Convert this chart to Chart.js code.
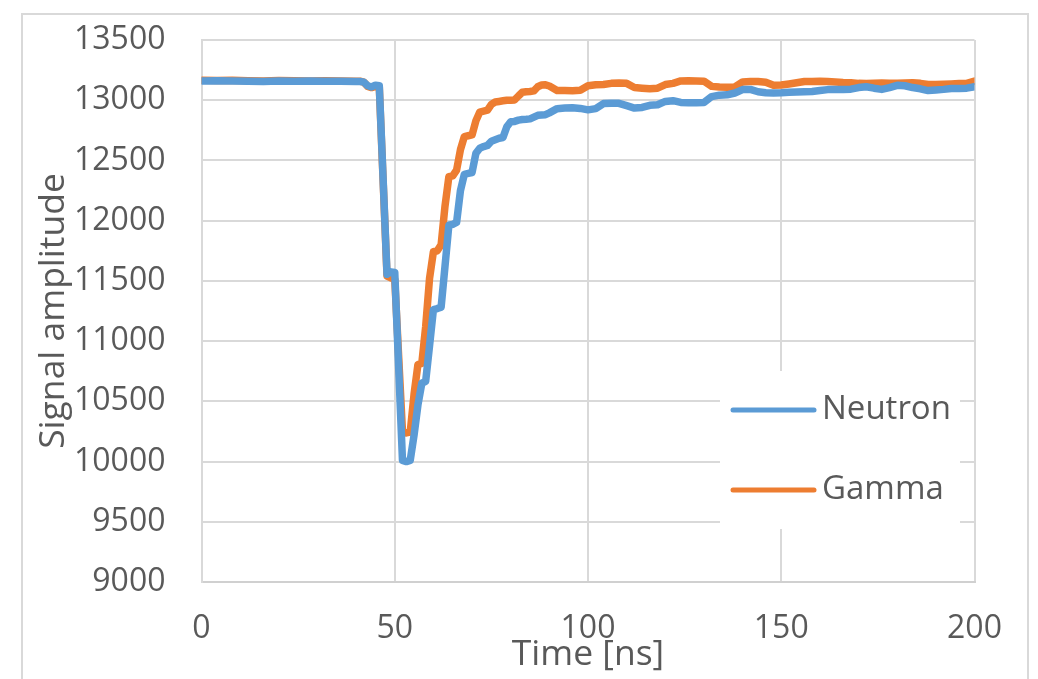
<!DOCTYPE html>
<html>
<head>
<meta charset="utf-8">
<script src="https://cdn.jsdelivr.net/npm/chart.js@4.4.1/dist/chart.umd.min.js"></script>
<style>
html,body{margin:0;padding:0;background:#fff;}
#wrap{width:1038px;height:679px;position:relative;}
</style>
</head>
<body>
<div id="wrap"><canvas id="c"></canvas></div>
<script>
const timeNs = [0,4,8,12,16,20,24,28,32,36,40,
41,42,43,44,45,46,47,48,49,50,51,52,53,54,55,56,57,58,59,60,
61,62,63,64,65,66,67,68,69,70,71,72,73,74,75,76,77,78,79,80,
81,82,83,84,85,86,87,88,89,90,
92,94,96,98,100,102,104,106,108,110,112,114,116,118,120,122,124,126,128,130,
132,134,136,138,140,142,144,146,148,150,152,154,156,158,160,162,164,166,168,170,
172,174,176,178,180,182,184,186,188,190,192,194,196,198,200];

const neutron = [13160,13162,13160,13158,13155,13160,13158,13160,13158,13157,13155,
13155,13150,13120,13110,13125,13120,12340,11555,11575,11570,10790,10010,10000,10010,10220,10470,10650,10665,10960,11262,
11270,11282,11620,11962,11970,11985,12250,12385,12392,12400,12560,12602,12615,12625,12660,12672,12684,12690,12780,12822,
12824,12835,12840,12842,12845,12860,12875,12878,12880,12895,
12930,12935,12938,12932,12920,12930,12972,12975,12974,12955,12935,12940,12958,12962,12990,12996,12982,12980,12980,12982,
13030,13042,13045,13060,13088,13090,13070,13062,13060,13062,13066,13068,13070,13072,13080,13088,13090,13090,13092,13105,
13112,13100,13090,13105,13124,13120,13105,13095,13080,13085,13090,13098,13098,13100,13112];

const gamma = [13165,13163,13165,13162,13160,13163,13162,13160,13161,13160,13158,
13158,13150,13115,13105,13115,13110,12325,11540,11525,11515,10880,10250,10238,10245,10560,10805,10815,11120,11520,11742,
11750,11800,12120,12365,12372,12420,12590,12698,12705,12712,12830,12902,12910,12918,12965,12985,12990,12995,13000,13000,
13002,13035,13066,13070,13072,13078,13112,13126,13128,13118,
13080,13080,13078,13082,13120,13128,13130,13140,13142,13140,13105,13100,13095,13100,13130,13140,13160,13162,13160,13158,
13115,13110,13108,13110,13152,13155,13155,13150,13125,13126,13135,13145,13155,13155,13158,13155,13152,13148,13146,13140,
13138,13140,13142,13140,13140,13142,13145,13140,13130,13130,13132,13135,13138,13140,13158];

const seriesNames = ['Neutron', 'Gamma'];
const xTicks = [0, 50, 100, 150, 200];
const yTicks = [9000, 9500, 10000, 10500, 11000, 11500, 12000, 12500, 13000, 13500];
const xTitle = 'Time [ns]';
const yTitle = 'Signal amplitude';

const FONT = '"Open Sans", Lato, sans-serif';
const TXT = '#595959';
const GRID = '#d9d9d9';

function pts(ys){ return timeNs.map((t,i)=>({x:t, y:ys[i]})); }

const framePlugin = {
  id: 'frame',
  beforeDraw(chart){
    const c = chart.ctx;
    c.save();
    c.fillStyle = '#fff';
    c.fillRect(0,0,chart.width,chart.height);
    c.strokeStyle = GRID;
    c.lineWidth = 2;
    c.strokeRect(22, 14, 1006, 720);
    c.restore();
  }
};

const boxLegend = {
  id: 'boxLegend',
  afterDatasetsDraw(chart){
    const c = chart.ctx;
    c.save();
    c.fillStyle = '#fff';
    c.fillRect(720, 371, 240, 158);
    c.font = '33px ' + FONT;
    c.textBaseline = 'middle';
    c.textAlign = 'left';
    chart.data.datasets.forEach((ds, i) => {
      const y = 410 + i * 80;
      c.strokeStyle = ds.borderColor;
      c.lineWidth = 5;
      c.lineCap = 'round';
      c.beginPath();
      c.moveTo(733, y);
      c.lineTo(814, y);
      c.stroke();
      c.fillStyle = TXT;
      c.fillText(ds.label, 822, y);
    });
    c.restore();
  }
};

new Chart(document.getElementById('c'), {
  type: 'line',
  data: {
    datasets: [
      {label: seriesNames[0], data: pts(neutron), borderColor: '#5B9BD5', backgroundColor: '#5B9BD5'},
      {label: seriesNames[1], data: pts(gamma), borderColor: '#ED7D31', backgroundColor: '#ED7D31'}
    ]
  },
  options: {
    responsive: true,
    maintainAspectRatio: false,
    animation: false,
    layout: {padding: {left: 0, right: 63.5, top: 40, bottom: 0}},
    elements: {
      point: {radius: 0, hoverRadius: 0},
      line: {borderWidth: 7.5, tension: 0, borderJoinStyle: 'round', borderCapStyle: 'round', fill: false}
    },
    plugins: {
      legend: {display: false},
      tooltip: {enabled: false}
    },
    scales: {
      x: {
        type: 'linear',
        min: xTicks[0], max: xTicks[xTicks.length-1],
        afterBuildTicks(s){ s.ticks = xTicks.map(v => ({value: v})); },
        afterFit(s){ s.height = 97; s.paddingLeft = 0; s.paddingRight = 0; },
        grid: {color: GRID, lineWidth: 2, drawTicks: false},
        border: {display: true, color: '#d0d0d0', width: 2},
        ticks: {color: TXT, font: {family: FONT, size: 32}, padding: 28, maxRotation: 0},
        title: {display: true, text: xTitle, color: TXT, font: {family: FONT, size: 35.5}, padding: {top: 0, bottom: 3}}
      },
      y: {
        type: 'linear',
        min: yTicks[0], max: yTicks[yTicks.length-1],
        afterBuildTicks(s){ s.ticks = yTicks.map(v => ({value: v})); },
        afterFit(s){ s.width = 201.5; s.paddingTop = 0; s.paddingBottom = 0; },
        grid: {color: GRID, lineWidth: 2, drawTicks: false},
        border: {display: true, color: GRID, width: 2},
        ticks: {color: TXT, font: {family: FONT, size: 32}, padding: 36, callback: v => String(v)},
        title: {display: true, text: yTitle, color: TXT, font: {family: FONT, size: 35.5}, padding: {top: 33, bottom: 0}}
      }
    }
  },
  plugins: [framePlugin, boxLegend]
});
</script>
</body>
</html>
